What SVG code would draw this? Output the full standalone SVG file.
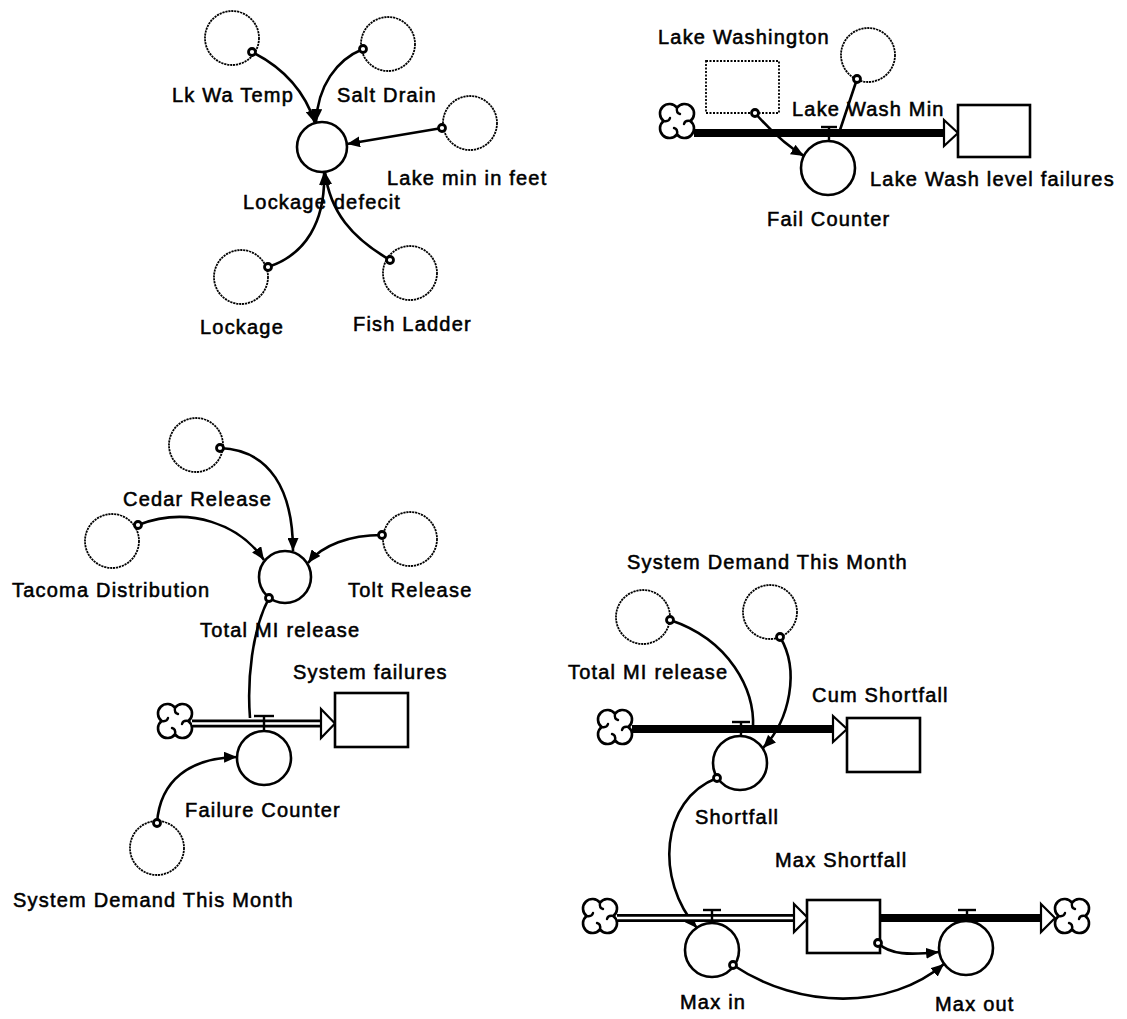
<svg xmlns="http://www.w3.org/2000/svg" width="1127" height="1019" viewBox="0 0 1127 1019">
<style>
.lbl{font-family:"Liberation Sans",Arial,Helvetica,sans-serif;font-size:20px;letter-spacing:1.2px;fill:#000;stroke:#000;stroke-width:0.55}
.ghost{fill:none;stroke:#000;stroke-width:1.8;stroke-dasharray:2.2 0.8}
.rate{fill:#fff;stroke:#000;stroke-width:2.6}
.stock{fill:#fff;stroke:#000;stroke-width:2.6}
.gstock{fill:none;stroke:#000;stroke-width:1.8;stroke-dasharray:2 1.5}
.conn{fill:none;stroke:#000;stroke-width:2.6}
.dot{fill:#fff;stroke:#000;stroke-width:2.8}
.pipe{fill:none;stroke:#000;stroke-width:8}
.pipein{fill:none;stroke:#fff;stroke-width:2.4}
.ahead{fill:#fff;stroke:#000;stroke-width:2.2;stroke-linejoin:miter}
.valve{fill:none;stroke:#000;stroke-width:2.4}
.cloud{fill:#fff;stroke:#000;stroke-width:2.6;stroke-linecap:round}
.curl{fill:none;stroke:#000;stroke-width:2.4;stroke-linecap:round}
</style>
<defs>
<marker id="arr" markerUnits="userSpaceOnUse" markerWidth="14" markerHeight="11" refX="13" refY="5.5" orient="auto">
<path d="M0,0 L13,5.5 L0,11 Z" fill="#000"/>
</marker>
<g id="cloud">
<path class="cloud" d="M0,-13.33 A9.5,9.5 0 1 1 13.33,0 A9.5,9.5 0 1 1 0,13.33 A9.5,9.5 0 1 1 -13.33,0 A9.5,9.5 0 1 1 0,-13.33 Z"/>
<path class="curl" d="M0,-13.33 Q-1,-8 3,-7 M13.33,0 Q8,-1 7,3 M0,13.33 Q1,8 -3,7 M-13.33,0 Q-8,1 -7,-3"/>
</g>
</defs>

<!-- ===== Connectors ===== -->
<g id="connectors">
<path class="conn" d="M252,52 C284,68 305,92 315,123" marker-end="url(#arr)"/>
<path class="conn" d="M363,49 C336,60 318,86 316,122" marker-end="url(#arr)"/>
<path class="conn" d="M442,128 L347,144" marker-end="url(#arr)"/>
<path class="conn" d="M268,267 C305,255 326,222 324,172" marker-end="url(#arr)"/>
<path class="conn" d="M390,260 C352,238 330,212 325,172" marker-end="url(#arr)"/>
<path class="conn" d="M755,113 C770,130 785,145 804,156" marker-end="url(#arr)"/>
<path class="conn" d="M857,79 L838,136"/>
<path class="conn" d="M220,448 C270,450 293,490 293,551" marker-end="url(#arr)"/>
<path class="conn" d="M138,525 C190,505 240,525 264,560" marker-end="url(#arr)"/>
<path class="conn" d="M382,535 C350,535 322,545 308,563" marker-end="url(#arr)"/>
<path class="conn" d="M269,598 C252,630 247,680 250,718"/>
<path class="conn" d="M157,823 C160,780 190,758 237,757" marker-end="url(#arr)"/>
<path class="conn" d="M670,620 C730,640 755,690 753,728"/>
<path class="conn" d="M780,637 C800,670 790,720 763,748" marker-end="url(#arr)"/>
<path class="conn" d="M717,778 C660,800 655,880 697,928" marker-end="url(#arr)"/>
<path class="conn" d="M733,965 C800,1010 890,1010 944,964" marker-end="url(#arr)"/>
<path class="conn" d="M878,943 C890,955 910,955 939,952" marker-end="url(#arr)"/>
</g>

<!-- ===== Flows ===== -->
<g id="flow-lake-wash">
<use href="#cloud" x="677" y="121"/>
<line class="pipe" x1="694" y1="133" x2="945" y2="133"/>
<polygon class="ahead" points="944,120 958,133 944,146"/>
<line class="valve" x1="821" y1="127" x2="837" y2="127"/>
<line class="valve" x1="829" y1="127" x2="829" y2="141"/>
</g>
<g id="flow-system-failures">
<use href="#cloud" x="175" y="721"/>
<line class="pipe" x1="192" y1="723.5" x2="322" y2="723.5"/>
<line class="pipein" x1="192" y1="723.5" x2="322" y2="723.5"/>
<polygon class="ahead" points="321,709 335,723.5 321,738"/>
<line class="valve" x1="254" y1="716" x2="274" y2="716"/>
<line class="valve" x1="264" y1="716" x2="264" y2="731"/>
</g>
<g id="flow-cum-shortfall">
<use href="#cloud" x="615" y="727"/>
<line class="pipe" x1="632" y1="729" x2="834" y2="729"/>
<polygon class="ahead" points="833,716 847,729 833,742"/>
<line class="valve" x1="732" y1="722" x2="750" y2="722"/>
<line class="valve" x1="741" y1="722" x2="741" y2="736"/>
</g>
<g id="flow-max-in">
<use href="#cloud" x="600" y="916"/>
<line class="pipe" x1="617" y1="918" x2="794" y2="918"/>
<line class="pipein" x1="617" y1="918" x2="794" y2="918"/>
<polygon class="ahead" points="794,904 808,918 794,932"/>
<line class="valve" x1="703" y1="910" x2="721" y2="910"/>
<line class="valve" x1="712" y1="910" x2="712" y2="923"/>
</g>
<g id="flow-max-out">
<line class="pipe" x1="880" y1="918" x2="1041" y2="918"/>
<polygon class="ahead" points="1041,904 1055,918 1041,932"/>
<use href="#cloud" x="1072" y="916"/>
<line class="valve" x1="958" y1="910" x2="976" y2="910"/>
<line class="valve" x1="967" y1="910" x2="967" y2="921"/>
</g>

<!-- ===== Top-left nodes ===== -->
<g id="lk-wa-temp"><circle class="ghost" cx="232" cy="38" r="27"/><text class="lbl" x="172" y="102">Lk Wa Temp</text></g>
<g id="salt-drain"><circle class="ghost" cx="388" cy="44" r="27"/><text class="lbl" x="337" y="102">Salt Drain</text></g>
<g id="lake-min-in-feet"><circle class="ghost" cx="470" cy="123" r="27"/><text class="lbl" x="387" y="185">Lake min in feet</text></g>
<g id="lockage-defecit"><circle class="rate" cx="322" cy="147" r="25"/><text class="lbl" x="243" y="209">Lockage defecit</text></g>
<g id="lockage"><circle class="ghost" cx="241" cy="277" r="27"/><text class="lbl" x="200" y="334">Lockage</text></g>
<g id="fish-ladder"><circle class="ghost" cx="410" cy="273" r="27"/><text class="lbl" x="353" y="331">Fish Ladder</text></g>

<!-- ===== Top-right nodes ===== -->
<g id="lake-washington"><rect class="gstock" x="706" y="61" width="73" height="52"/><text class="lbl" x="658" y="44">Lake Washington</text></g>
<g id="lake-wash-min"><circle class="ghost" cx="868" cy="55" r="27"/><text class="lbl" x="792" y="116">Lake Wash Min</text></g>
<g id="fail-counter"><circle class="rate" cx="828" cy="168" r="27"/><text class="lbl" x="767" y="226">Fail Counter</text></g>
<g id="lake-wash-level-failures"><rect class="stock" x="958" y="105" width="72" height="52"/><text class="lbl" x="870" y="186">Lake Wash level failures</text></g>

<!-- ===== Bottom-left nodes ===== -->
<g id="cedar-release"><circle class="ghost" cx="196" cy="445" r="27"/><text class="lbl" x="123" y="506">Cedar Release</text></g>
<g id="tacoma-distribution"><circle class="ghost" cx="112" cy="541" r="27"/><text class="lbl" x="12" y="597">Tacoma Distribution</text></g>
<g id="tolt-release"><circle class="ghost" cx="410" cy="539" r="27"/><text class="lbl" x="348" y="597">Tolt Release</text></g>
<g id="total-mi-release"><circle class="rate" cx="285" cy="577" r="26"/><text class="lbl" x="200" y="637">Total MI release</text></g>
<g id="system-failures"><rect class="stock" x="335" y="693" width="73" height="54"/><text class="lbl" x="293" y="679">System failures</text></g>
<g id="failure-counter"><circle class="rate" cx="264" cy="758" r="27"/><text class="lbl" x="185" y="817">Failure Counter</text></g>
<g id="system-demand-bl"><circle class="ghost" cx="157" cy="848" r="27"/><text class="lbl" x="13" y="907">System Demand This Month</text></g>

<!-- ===== Bottom-right nodes ===== -->
<g id="total-mi-release-br"><circle class="ghost" cx="643" cy="617" r="27"/><text class="lbl" x="568" y="679">Total MI release</text></g>
<g id="system-demand-br"><circle class="ghost" cx="770" cy="612" r="27"/><text class="lbl" x="627" y="569">System Demand This Month</text></g>
<g id="cum-shortfall"><rect class="stock" x="847" y="718" width="73" height="54"/><text class="lbl" x="812" y="702">Cum Shortfall</text></g>
<g id="shortfall"><circle class="rate" cx="740" cy="763" r="27"/><text class="lbl" x="695" y="824">Shortfall</text></g>
<g id="max-shortfall"><rect class="stock" x="807" y="900" width="73" height="53"/><text class="lbl" x="775" y="867">Max Shortfall</text></g>
<g id="max-in"><circle class="rate" cx="712" cy="950" r="27"/><text class="lbl" x="680" y="1009">Max in</text></g>
<g id="max-out"><circle class="rate" cx="966" cy="948" r="27"/><text class="lbl" x="935" y="1011">Max out</text></g>

<!-- connector source dots -->
<g id="dots">
<circle class="dot" cx="252" cy="52" r="3.5"/>
<circle class="dot" cx="363" cy="49" r="3.5"/>
<circle class="dot" cx="442" cy="128" r="3.5"/>
<circle class="dot" cx="268" cy="267" r="3.5"/>
<circle class="dot" cx="390" cy="260" r="3.5"/>
<circle class="dot" cx="755" cy="113" r="3.5"/>
<circle class="dot" cx="857" cy="79" r="3.5"/>
<circle class="dot" cx="220" cy="448" r="3.5"/>
<circle class="dot" cx="138" cy="525" r="3.5"/>
<circle class="dot" cx="382" cy="535" r="3.5"/>
<circle class="dot" cx="269" cy="598" r="3.5"/>
<circle class="dot" cx="157" cy="823" r="3.5"/>
<circle class="dot" cx="670" cy="620" r="3.5"/>
<circle class="dot" cx="780" cy="637" r="3.5"/>
<circle class="dot" cx="717" cy="778" r="3.5"/>
<circle class="dot" cx="733" cy="965" r="3.5"/>
<circle class="dot" cx="878" cy="943" r="3.5"/>
</g>
</svg>
